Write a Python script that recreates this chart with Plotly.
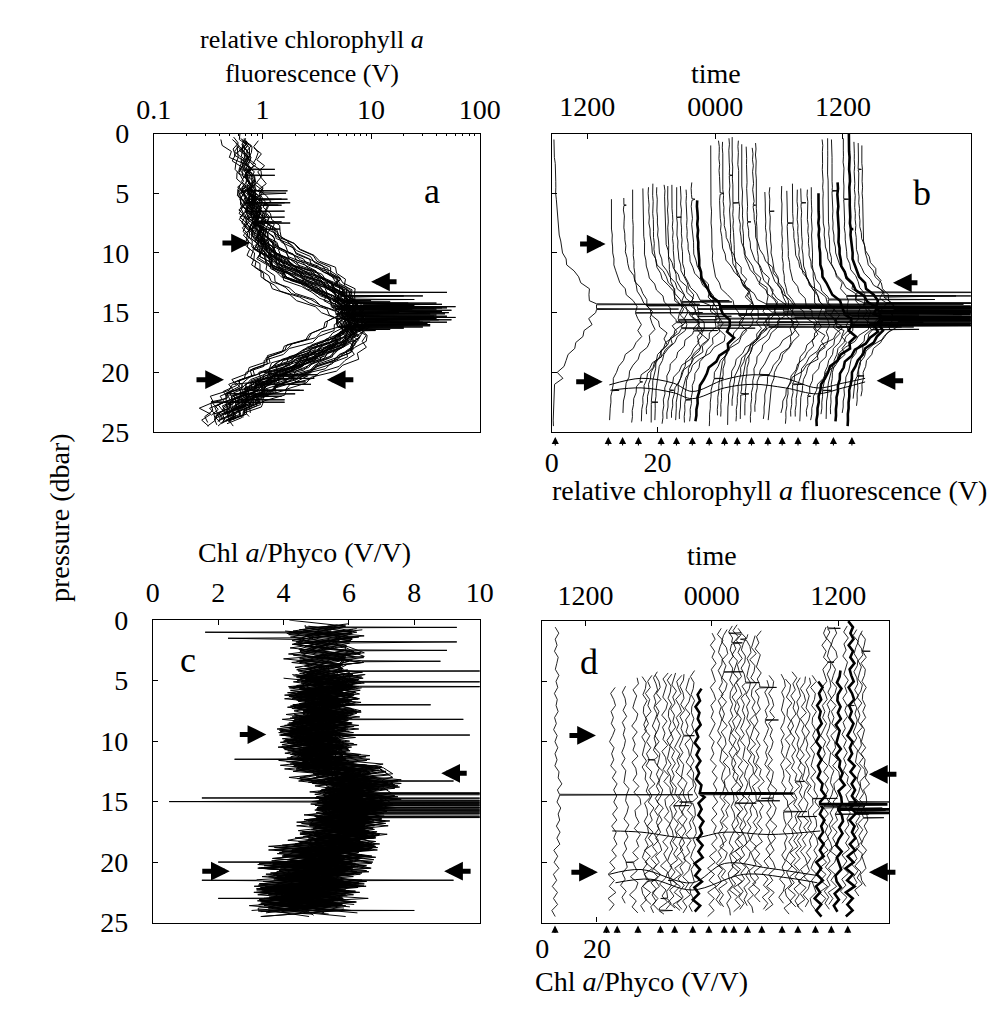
import plotly.graph_objects as go

FONT = "Liberation Serif"
W, H = 1004, 1012

# ---------------- data ----------------
DEPTH = [0.0, 0.5, 1.0, 1.5, 2.0, 2.5, 3.0, 3.5, 4.0, 4.5,
         5.0, 5.5, 6.0, 6.5, 7.0, 7.5, 8.0, 8.5, 9.0, 9.5,
         10.0, 10.5, 11.0, 11.5, 12.0, 12.5, 13.0, 13.5, 14.0, 14.5,
         15.0, 15.5, 16.0, 16.5, 17.0, 17.5, 18.0, 18.5, 19.0, 19.5,
         20.0, 20.5, 21.0, 21.5, 22.0, 22.5, 23.0, 23.5, 24.0, 24.5,
         25.0]

# chlorophyll a fluorescence profile shapes (V) on DEPTH
CHL_SHAPE_0 = [0.62, 0.64, 0.66, 0.63, 0.68, 0.70, 0.69, 0.72, 0.74, 0.73,
               0.76, 0.78, 0.80, 0.79, 0.83, 0.86, 0.90, 0.95, 1.00, 1.08,
               1.18, 1.35, 1.60, 2.00, 2.60, 3.30, 4.10, 4.90, 5.50, 5.90,
               6.20, 6.40, 6.50, 6.30, 5.80, 4.90, 3.90, 3.00, 2.30, 1.70,
               1.30, 1.05, 0.90, 0.75, 0.65, 0.57, 0.50, 0.46, 0.42, 0.40,
               0.38]
CHL_SHAPE_1 = [0.70, 0.72, 0.75, 0.71, 0.74, 0.78, 0.76, 0.80, 0.79, 0.82,
               0.85, 0.83, 0.88, 0.92, 0.90, 0.97, 1.05, 1.12, 1.20, 1.35,
               1.55, 1.90, 2.40, 3.00, 3.60, 4.20, 4.60, 5.10, 5.30, 5.80,
               5.60, 6.00, 5.70, 5.20, 4.60, 3.80, 3.10, 2.50, 2.00, 1.60,
               1.30, 1.10, 0.95, 0.85, 0.72, 0.64, 0.56, 0.50, 0.46, 0.43,
               0.41]
CHL_SHAPE_2 = [0.58, 0.60, 0.61, 0.64, 0.62, 0.65, 0.67, 0.66, 0.69, 0.70,
               0.72, 0.71, 0.74, 0.76, 0.75, 0.78, 0.80, 0.84, 0.88, 0.92,
               0.98, 1.05, 1.20, 1.40, 1.75, 2.30, 3.10, 4.00, 5.00, 5.90,
               6.70, 7.20, 7.40, 7.60, 7.20, 6.30, 5.00, 3.80, 2.80, 2.10,
               1.60, 1.25, 1.00, 0.82, 0.68, 0.58, 0.50, 0.44, 0.40, 0.37,
               0.35]
CHL_SHAPE_3 = [0.40, 0.38, 0.45, 0.50, 0.55, 0.62, 0.66, 0.70, 0.72, 0.75,
               0.80, 0.85, 0.90, 1.00, 1.05, 1.20, 1.30, 1.45, 1.60, 1.85,
               2.20, 2.60, 3.10, 4.00, 5.00, 5.80, 6.60, 7.30, 7.60, 7.90,
               8.10, 7.60, 7.00, 6.40, 5.60, 4.90, 4.20, 3.40, 2.60, 2.10,
               1.10, 2.00, 0.60, 0.45, 0.35, 0.33, 0.30, 0.32, 0.30, 0.29,
               0.30]
CHL_SHAPES = [CHL_SHAPE_0, CHL_SHAPE_1, CHL_SHAPE_2, CHL_SHAPE_3]
CHL_WIGGLE_FRAC = 0.09   # relative jitter of fluorescence

# Chl a / Phyco ratio: median profile and wiggle tables (V/V) on DEPTH
RATIO_BASE = [5.3, 5.4, 5.2, 5.1, 5.2, 5.3, 5.3, 5.2, 5.3, 5.4,
              5.3, 5.3, 5.2, 5.2, 5.25, 5.2, 5.1, 5.1, 5.0, 5.0,
              5.0, 5.0, 5.1, 5.2, 5.3, 5.6, 6.1, 6.4, 6.3, 6.0,
              5.9, 5.9, 6.0, 6.0, 6.0, 5.9, 5.7, 5.5, 5.3, 5.2,
              5.1, 5.0, 5.0, 4.9, 4.9, 4.8, 4.7, 4.6, 4.5, 4.3,
              4.2]
RATIO_WIGGLE_0 = [0.6, -0.8, 1.1, -0.4, 0.3, -1.0, 0.7, 0.2, -0.6, 0.9,
                  -0.3, 0.5, -0.9, 0.4, -0.2, 0.8, -0.7, 0.1, -1.0, 0.6,
                  -0.4, 0.9, -0.5, 0.3, -0.8, 0.7, -0.3, 1.0, -0.9, 0.4,
                  -0.6, 1.1, -0.2, 0.5, -1.0, 0.8, -0.4, 1.2, -1.3, 0.6,
                  -0.9, 1.4, -1.1, 0.5, -1.5, 1.0, -0.7, 1.3, -1.2, 0.6,
                  -0.5]
RATIO_WIGGLE_1 = [-0.9, 0.4, -0.2, 0.8, -0.7, 0.5, -0.3, 1.0, -0.5, -0.1,
                  0.7, -0.8, 0.3, 0.9, -0.6, 0.2, -0.4, 0.8, 0.1, -0.9,
                  0.6, -0.2, 0.4, -0.7, 1.0, -0.5, 0.6, -0.8, 0.3, -0.4,
                  0.9, -0.7, 0.6, -1.1, 0.4, -0.3, 0.9, -0.6, 1.1, -1.0,
                  0.8, -1.4, 0.7, -0.9, 1.3, -1.2, 0.9, -0.6, 1.0, -0.8,
                  0.4]
RATIO_WIGGLE_2 = [0.2, 1.0, -0.6, 0.4, -1.1, 0.8, -0.2, -0.7, 0.6, 0.3,
                  -0.9, 0.2, 0.7, -0.5, 0.9, -0.8, 0.4, -0.3, 0.7, 0.2,
                  -0.8, 0.5, -1.0, 0.6, 0.2, -0.6, 0.9, -0.4, -0.7, 0.8,
                  0.3, -0.9, 1.0, -0.5, 0.6, -0.8, 0.4, -1.0, 0.5, 1.2,
                  -0.7, 0.6, -1.3, 1.1, -0.6, 0.8, -1.4, 0.5, -0.9, 1.1,
                  -0.3]
RATIO_WIGGLE_3 = [-0.4, -0.9, 0.7, 0.2, 0.8, -0.3, -0.8, 0.6, 0.9, -0.7,
                  0.4, -0.2, -0.6, 0.8, 0.3, -0.9, 0.7, -0.6, 0.2, -0.4,
                  1.0, -0.7, 0.3, 0.5, -0.6, 0.8, -1.0, 0.5, 0.8, -0.6,
                  -0.3, 0.6, -0.8, 0.9, -0.2, 0.5, -1.0, 0.7, -0.4, 0.6,
                  -1.2, 1.0, 0.4, -1.3, 0.6, -0.5, 1.2, -1.1, 0.3, -0.7,
                  0.6]
RATIO_WIGGLE_4 = [1.0, -0.3, 0.5, -0.9, 0.6, 0.1, -0.5, 0.9, -1.0, 0.4,
                  0.2, -0.7, 0.9, -0.3, -0.5, 0.6, -0.2, 0.8, -0.8, 0.5,
                  -0.1, -0.6, 0.8, -0.9, 0.4, -0.2, 0.5, -0.6, 1.0, -0.8,
                  0.2, 0.4, -0.9, 0.3, 0.7, -0.5, 0.8, -0.3, -0.9, 1.0,
                  -0.5, 0.3, 1.0, -0.8, -0.4, 1.1, -0.9, 0.6, -1.0, 0.4,
                  0.8]
RATIO_WIGGLES = [RATIO_WIGGLE_0, RATIO_WIGGLE_1, RATIO_WIGGLE_2, RATIO_WIGGLE_3, RATIO_WIGGLE_4]

# casts (profiles), left to right in time
CAST_B_OFFSET = [0.0,
                 10.55, 12.7, 14.7, 16.5, 17.3, 18.5, 19.1, 20.4, 21.3, 22.0, 22.9, 23.6, 24.7, 25.6, 26.7,
                 29.5, 30.9, 31.6, 32.9, 33.6, 34.4, 35.3, 36.2, 37.1, 38.0,
                 39.6, 40.5, 42.7, 43.8, 44.7, 45.6, 46.5, 47.5, 48.5, 49.6,
                 50.5, 51.5, 52.4, 53.3, 54.5, 55.6, 56.5, 57.3, 58.0]
CAST_D_OFFSET = [0.0,
                 20.6, 24.8, 28.7, 32.2, 33.6, 36.1, 37.1, 39.6, 41.3, 42.7, 44.5, 45.9, 48.0, 49.7, 51.8,
                 57.1, 59.9, 61.3, 63.8, 65.2, 66.6, 68.3, 70.1, 71.8, 73.6,
                 76.8, 78.5, 82.7, 84.8, 86.6, 88.3, 90.1, 91.8, 93.9, 96.1,
                 97.8, 99.6, 101.3, 103.1, 105.5, 107.6, 109.4, 110.8, 112.2]
CAST_TOP = [0.3,
            5.4, 5.4, 4.6, 4.4, 4.3, 4.0, 4.2, 4.0, 4.1, 4.0, 4.3, 4.2, 4.5, 4.1, 5.2,
            0.9, 0.3, 0.5, 0.2, 0.3, 0.4, 0.6, 0.7, 0.9, 0.8,
            4.5, 4.4, 4.3, 4.6, 4.2, 4.5, 4.4, 4.6, 4.5, 4.9,
            0.3, 0.2, 0.4, 4.1, 0.3, 0.0, 0.2, 0.4, 0.6]
CAST_BOT = [24.8,
            24.0, 23.5, 24.2, 24.5, 23.8, 24.3, 24.0, 24.6, 24.2, 23.9, 24.4, 24.1, 24.6, 24.3, 24.4,
            24.8, 23.6, 24.0, 24.5, 23.2, 24.2, 24.7, 23.9, 24.4, 23.5,
            24.0, 24.3, 23.6, 24.6, 24.1, 23.8, 24.5, 24.0, 24.2, 24.6,
            23.5, 24.0, 23.8, 24.5, 23.6, 24.7, 22.5, 23.0, 22.0]
CAST_SHAPE = [3,
              0, 1, 2, 0, 1, 2, 0, 1, 2, 0, 1, 2, 0, 1, 0,
              2, 0, 1, 2, 0, 1, 2, 0, 1, 2,
              0, 1, 2, 0, 1, 2, 0, 1, 2, 0,
              1, 2, 0, 2, 1, 0, 2, 1, 0]
CAST_DZ = [0.0,
           0.5, 0.9, 1.2, 0.6, 0.0, -0.8, -0.5, 0.3, 0.9, 1.3, 1.0, 0.4, -0.3, 0.6, 1.1,
           0.0, -0.9, -1.3, -0.6, 0.3, -0.4, -1.1, -1.4, -0.8, -0.2,
           0.4, 1.0, 1.4, 0.8, 0.2, -0.3, 0.6, 1.2, 1.5, 1.0,
           0.0, -0.6, -1.0, -0.4, 0.4, 0.0, -0.8, -1.2, -0.5]
CAST_AMP = [1.0,
            0.95, 1.10, 0.90, 1.05, 1.20, 0.85, 1.00, 1.15, 0.92, 1.08, 0.88, 1.18, 0.97, 1.03, 1.10,
            0.90, 1.12, 0.95, 1.05, 0.86, 1.15, 1.00, 0.93, 1.20, 0.98,
            1.06, 0.89, 1.14, 0.96, 1.02, 1.17, 0.91, 1.08, 0.94, 1.12,
            0.99, 1.10, 0.87, 1.13, 0.95, 1.04, 1.16, 0.90, 1.01]
CAST_CHL_WIGGLE = [2,
                   3, 4, 0, 1, 2, 3, 4, 0, 1, 2, 3, 4, 0, 1, 2,
                   3, 4, 0, 1, 2, 3, 4, 0, 1, 2,
                   3, 4, 0, 1, 2, 3, 4, 0, 1, 2,
                   3, 4, 0, 1, 2, 3, 4, 0, 1]
CAST_WIGGLE = [0,
               1, 2, 3, 4, 0, 1, 2, 3, 4, 0, 1, 2, 3, 4, 0,
               1, 2, 3, 4, 0, 1, 2, 3, 4, 0,
               1, 2, 3, 4, 0, 1, 2, 3, 4, 0,
               1, 2, 3, 4, 0, 1, 2, 3, 4]
CAST_WAMP = [0.8,
             1.1, 0.9, 1.3, 1.0, 1.2, 0.95, 1.15, 1.25, 0.9, 1.05, 1.3, 1.0, 1.2, 0.85, 1.1,
             1.2, 1.0, 1.3, 0.9, 1.15, 1.25, 1.05, 0.95, 1.3, 1.1,
             1.0, 1.2, 0.9, 1.3, 1.1, 0.95, 1.25, 1.05, 1.15, 1.0,
             1.2, 0.9, 1.3, 1.1, 1.0, 1.25, 0.95, 1.15, 1.05]
THICK_CASTS = [15, 35, 39, 41]

# spikes (cast index, pressure, value)
CHL_SPIKE_CAST = [0, 0, 15, 16, 18, 20, 22, 24, 26, 28,
                  30, 32, 34, 35, 36, 37, 38, 39, 40, 41,
                  42, 43, 44, 10, 12, 5, 8, 17, 20, 23,
                  27, 38, 41, 3, 9, 13, 30, 33,
                  1, 2, 4, 6, 7, 9, 11, 13, 14, 19,
                  21, 23, 25, 27, 29, 31, 33, 35, 39, 41,
                  44, 42, 37, 36,
                  2, 11, 14, 19, 24, 29, 32, 40, 43, 1,
                  6, 16, 22, 25, 36, 42]
CHL_SPIKE_DEPTH = [14.3, 14.7, 14.5, 15.2, 14.6, 15.5, 15.8, 14.9, 15.3, 16.0,
                   15.6, 14.8, 16.2, 15.1, 13.6, 15.9, 13.3, 15.4, 16.4, 14.9,
                   15.7, 14.2, 16.1, 15.3, 14.0, 15.6, 16.5, 5.0, 5.8, 7.4,
                   6.5, 4.8, 8.0, 20.8, 21.5, 22.3, 21.0, 22.0,
                   15.0, 14.4, 15.8, 16.3, 14.1, 15.1, 14.7, 15.5, 16.0, 14.3,
                   15.0, 16.2, 14.6, 15.4, 14.5, 15.8, 13.9, 16.0, 14.6, 15.6,
                   14.7, 13.6, 14.2, 15.3,
                   6.0, 7.0, 5.5, 3.5, 6.0, 7.5, 5.8, 5.5, 3.0, 21.5,
                   22.5, 20.5, 21.8, 20.2, 21.5, 20.3]
CHL_SPIKE_VALUE = [28, 24, 60, 40, 50, 30, 35, 45, 38, 25,
                   42, 55, 20, 48, 30, 33, 50, 60, 15, 40,
                   28, 22, 35, 12, 10, 14, 11, 1.65, 1.8, 1.5,
                   1.6, 1.7, 1.45, 2.5, 1.8, 1.6, 2.8, 1.5,
                   18, 25, 30, 20, 15, 35, 22, 40, 28, 45,
                   52, 30, 38, 45, 33, 50, 25, 35, 45, 55,
                   40, 20, 40, 50,
                   1.4, 1.6, 1.5, 1.3, 1.5, 1.8, 1.6, 1.7, 1.3, 2.2,
                   1.6, 3.0, 2.0, 3.2, 2.4, 2.6]
RATIO_SPIKE_CAST = [0, 15, 35, 39, 41, 36, 38, 40, 42, 43,
                    44, 20, 24, 28, 31, 33, 10, 18, 22, 25,
                    37, 19, 40, 26, 12, 30, 4, 8, 21, 23,
                    6, 14, 27, 3, 11, 9, 43, 36]
RATIO_SPIKE_DEPTH = [14.4, 14.3, 15.2, 15.6, 15.9, 15.4, 16.0, 15.0, 15.7, 16.3,
                     15.5, 15.1, 14.9, 15.8, 16.2, 14.7, 15.3, 4.2, 5.1, 5.5,
                     0.6, 1.8, 7.0, 8.2, 9.5, 13.3, 21.5, 24.0, 1.0, 1.5,
                     11.5, 15.0, 14.7, 20.0, 21.5, 23.0, 2.5, 3.4]
RATIO_SPIKE_VALUE = [55, 40, 30, 35, 25, 20, 18, 22, 16, 14,
                     12, 13, 15, 14, 12, 16, 11, 12, 11, 12,
                     9.3, 9.3, 8.5, 9.5, 9.7, 9.2, 9.2, 8.0, 1.6, 2.3,
                     2.5, 0.5, 1.5, 2.0, 1.5, 2.0, 9.0, 8.8]

# near-bottom connecting lines
B_LINK_X = [[10.9, 16.9, 23.0, 26.6, 32.7, 38.1, 44.2, 50.2, 55.1, 59.3],
            [11.1, 16.9, 23.0, 26.6, 32.7, 38.1, 44.2, 50.2, 55.1, 59.3]]
B_LINK_P = [[21.05, 20.5, 20.9, 21.6, 20.6, 20.2, 20.5, 21.3, 20.9, 20.5],
            [21.5, 21.3, 21.7, 22.2, 21.3, 21.0, 21.3, 21.8, 21.3, 20.8]]
D_LINK_X = [[25.6, 36.1, 54.8, 66.6, 82.9, 101.6],
            [24.5, 36.1, 54.8, 66.6, 82.9, 100.5],
            [26.8, 39.6, 54.8, 73.6, 89.9, 100.5]]
D_LINK_P = [[17.4, 17.5, 18.0, 17.5, 17.7, 17.4],
            [21.0, 20.6, 21.7, 20.1, 20.5, 21.1],
            [21.7, 21.4, 22.3, 21.0, 21.3, 21.7]]

# small arrows under panels b and d (cast markers)
MARK_B = [0.67, 10.7, 13.4, 16.4, 20.7, 23.6, 26.6, 29.8, 32.7, 35.1, 37.8, 40.9, 43.6, 46.6, 50.0, 53.3, 56.8]
MARK_D = [4.7, 23.5, 27.4, 35.0, 43.2, 48.4, 55.0, 60.9, 66.5, 70.0, 75.0, 80.2, 87.6, 93.4, 99.8, 105.6, 111.6]

P_TICKS = [0, 5, 10, 15, 20, 25]
A_TICKS = [0.1, 1, 10, 100]
A_TICKTEXT = ["0.1", "1", "10", "100"]
C_TICKS = [0, 2, 4, 6, 8, 10]
TIME_TICKS = [12, 24, 36]
TIME_TEXT = ["1200", "0000", "1200"]
OFF_TICKS = [0, 20]


# ---------------- build profiles ----------------
def cast_profile(i, kind):
    dz = CAST_DZ[i]
    keep = [k for k, d in enumerate(DEPTH) if CAST_TOP[i] <= d + dz <= CAST_BOT[i]]
    if kind == "chl":
        shape = CHL_SHAPES[CAST_SHAPE[i]]
        wig = RATIO_WIGGLES[CAST_CHL_WIGGLE[i]]
        vals = {k: shape[k] * CAST_AMP[i] * (1 + CHL_WIGGLE_FRAC * wig[k]) for k in keep}
        spikes = zip(CHL_SPIKE_CAST, CHL_SPIKE_DEPTH, CHL_SPIKE_VALUE)
    else:
        wig = RATIO_WIGGLES[CAST_WIGGLE[i]]
        vals = {k: RATIO_BASE[k] + wig[k] * CAST_WAMP[i] for k in keep}
        spikes = zip(RATIO_SPIKE_CAST, RATIO_SPIKE_DEPTH, RATIO_SPIKE_VALUE)
    pts = [(DEPTH[k] + dz, vals[k]) for k in keep]
    for c, d, v in spikes:
        if c != i or not keep:
            continue
        k = min(keep, key=lambda kk: abs(DEPTH[kk] + dz - d))
        base = vals[k]
        pts += [(d - 0.04, base), (d, v), (d + 0.04, base)]
    pts.sort(key=lambda t: t[0])
    return pts


def collect(kind, offsets, casts):
    xs, ys = [], []
    for i in casts:
        off = 0.0 if offsets is None else offsets[i]
        for p, v in cast_profile(i, kind):
            xs.append(off + v)
            ys.append(p)
        xs.append(None)
        ys.append(None)
    return xs, ys


ALL = list(range(len(CAST_B_OFFSET)))
THIN = [i for i in ALL if i not in THICK_CASTS]

fig = go.Figure()


def line_trace(x, y, xa, ya, width, shape="linear"):
    return go.Scatter(x=x, y=y, xaxis=xa, yaxis=ya, mode="lines",
                      line=dict(color="black", width=width, shape=shape),
                      hoverinfo="skip", showlegend=False)


# panel a
xa_, ya_ = collect("chl", None, ALL)
fig.add_trace(line_trace(xa_, ya_, "x", "y", 1.0))
# panel b
xb_, yb_ = collect("chl", CAST_B_OFFSET, THIN)
fig.add_trace(line_trace(xb_, yb_, "x2", "y2", 0.9))
xbt, ybt = collect("chl", CAST_B_OFFSET, THICK_CASTS)
fig.add_trace(line_trace(xbt, ybt, "x2", "y2", 2.6))
for lx, lp in zip(B_LINK_X, B_LINK_P):
    fig.add_trace(line_trace(lx, lp, "x2", "y2", 1.0, "spline"))
fig.add_trace(go.Scatter(x=[TIME_TICKS[0]], y=[0], xaxis="x3", yaxis="y2", mode="markers",
                         marker=dict(opacity=0), hoverinfo="skip", showlegend=False))
# panel c
xc_, yc_ = collect("ratio", None, ALL)
fig.add_trace(line_trace(xc_, yc_, "x4", "y4", 1.0))
# panel d
xd_, yd_ = collect("ratio", CAST_D_OFFSET, THIN)
fig.add_trace(line_trace(xd_, yd_, "x5", "y5", 0.85))
xdt, ydt = collect("ratio", CAST_D_OFFSET, THICK_CASTS)
fig.add_trace(line_trace(xdt, ydt, "x5", "y5", 2.6))
for lx, lp in zip(D_LINK_X, D_LINK_P):
    fig.add_trace(line_trace(lx, lp, "x5", "y5", 1.0, "spline"))
fig.add_trace(go.Scatter(x=[TIME_TICKS[0]], y=[0], xaxis="x6", yaxis="y5", mode="markers",
                         marker=dict(opacity=0), hoverinfo="skip", showlegend=False))


# ---------------- layout ----------------
def fx(p):
    return p / W


def fy(p):
    return 1 - p / H


TF = dict(family=FONT, size=28, color="black")
base_ax = dict(showline=True, linecolor="black", linewidth=1.2, mirror=True,
               ticks="inside", ticklen=5, tickwidth=1, tickcolor="black",
               showgrid=False, zeroline=False, tickfont=TF, fixedrange=True)

fig.update_layout(
    width=W, height=H, autosize=False,
    margin=dict(l=0, r=0, t=0, b=0),
    paper_bgcolor="white", plot_bgcolor="white",
    showlegend=False,
    font=dict(family=FONT, size=28, color="black"),
    xaxis=dict(base_ax, type="log", range=[-1, 2], domain=[fx(133), fx(472)],
               anchor="y", side="top", tickvals=A_TICKS, ticktext=A_TICKTEXT,
               ticklabelstandoff=2,
               minor=dict(ticks="inside", ticklen=2.5, tickcolor="black", dtick="D1")),
    yaxis=dict(base_ax, range=[25, 0], domain=[fy(422), fy(114)], anchor="x",
               tickvals=P_TICKS, ticklabelstandoff=18),
    xaxis2=dict(base_ax, range=[0, 79.3], domain=[fx(547), fx(983)], anchor="y2",
                side="bottom", tickvals=OFF_TICKS, ticklabelstandoff=5),
    yaxis2=dict(base_ax, range=[25, 0], domain=[fy(422), fy(114)], anchor="x2",
                tickvals=[5, 10, 15, 20], showticklabels=False),
    xaxis3=dict(base_ax, showline=False, overlaying="x2", anchor="y2", side="top",
                range=[8.66, 48.0], tickvals=TIME_TICKS, ticktext=TIME_TEXT,
                ticklabelstandoff=11),
    xaxis4=dict(base_ax, range=[0, 10], domain=[fx(132), fx(472)], anchor="y4",
                side="top", tickvals=C_TICKS, ticklabelstandoff=6),
    yaxis4=dict(base_ax, range=[25, 0], domain=[fy(928), fy(616)], anchor="x4",
                tickvals=P_TICKS, ticklabelstandoff=18),
    xaxis5=dict(base_ax, range=[0, 126.7], domain=[fx(537), fx(898)], anchor="y5",
                side="bottom", tickvals=OFF_TICKS, ticklabelstandoff=1),
    yaxis5=dict(base_ax, range=[25, 0], domain=[fy(928), fy(617)], anchor="x5",
                tickvals=[5, 10, 15, 20], showticklabels=False),
    xaxis6=dict(base_ax, showline=False, overlaying="x5", anchor="y5", side="top",
                range=[7.89, 40.83], tickvals=TIME_TICKS, ticktext=TIME_TEXT,
                ticklabelstandoff=9),
)

ann = []


def text(t, x, y, size=28, xanchor="center", angle=0, yanchor="middle"):
    ann.append(dict(text=t, x=fx(x), y=fy(y), xref="paper", yref="paper",
                    showarrow=False, xanchor=xanchor, yanchor=yanchor, textangle=angle,
                    font=dict(family=FONT, size=size, color="black")))


text("relative chlorophyll <i>a</i><br>fluorescence (V)", 298, 0, size=26, yanchor="top")
text("time", 718, 52)
text("relative chlorophyll <i>a</i> fluorescence (V)", 545, 482, xanchor="left")
text("Chl <i>a</i>/Phyco (V/V)", 290, 546)
text("time", 714, 549)
text("Chl <i>a</i>/Phyco (V/V)", 528, 989, xanchor="left")
text("pressure (dbar)", 35, 510, angle=-90)
text("a", 422, 173, size=36)
text("b", 932, 175, size=36)
text("c", 169, 657, size=36)
text("d", 586, 659, size=36)

# bold marker arrows (head x, head y, tail dx)
BIG_ARROWS = [(233, 227, -29), (359, 267, 27), (206, 368, -29), (313, 368, 28),
              (603, 228, -27), (902, 268, 26), (600, 370, -28), (885, 369, 28),
              (250, 734, -28), (432, 774, 27), (212, 875, -29), (435, 875, 28),
              (593, 735, -28), (877, 775, 29), (595, 876, -28), (877, 876, 28)]
for hx, hy, dx in BIG_ARROWS:
    ann.append(dict(text="", x=fx(hx), y=fy(hy), xref="paper", yref="paper",
                    ax=dx, ay=0, axref="pixel", ayref="pixel", showarrow=True,
                    arrowhead=2, arrowsize=0.75, arrowwidth=5, arrowcolor="black",
                    standoff=0, startstandoff=0))

for m in MARK_B:
    ann.append(dict(text="", x=m, y=fy(427), xref="x2", yref="paper", ax=0, ay=10,
                    showarrow=True, arrowhead=2, arrowsize=1.3, arrowwidth=1.1,
                    arrowcolor="black", standoff=0))
for m in MARK_D:
    ann.append(dict(text="", x=m, y=fy(931), xref="x5", yref="paper", ax=0, ay=9,
                    showarrow=True, arrowhead=2, arrowsize=1.3, arrowwidth=1.1,
                    arrowcolor="black", standoff=0))

fig.update_layout(annotations=ann)
fig.write_html("out.html")
